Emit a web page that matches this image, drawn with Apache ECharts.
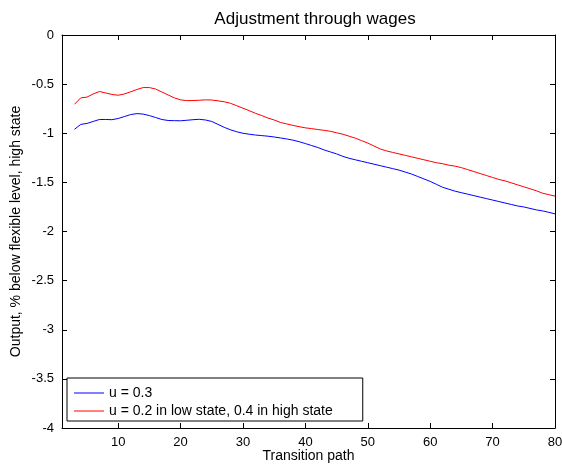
<!DOCTYPE html>
<html>
<head>
  <meta charset="utf-8">
  <title>Adjustment through wages</title>
  <script src="https://cdn.jsdelivr.net/npm/echarts@6/dist/echarts.min.js"></script>
</head>
<body style="margin:0">
  <div id="container" style="height: 465px; width: 562px"></div>
  <script>
    // transition path periods
    var periods = [];
    for (var t = 3; t <= 80; t++) periods.push(t);

    var uFlat = [
      -0.96, -0.91, -0.90, -0.88, -0.86, -0.86, -0.862, -0.85, -0.83, -0.81,
      -0.80, -0.805, -0.82, -0.84, -0.86, -0.87, -0.872, -0.873, -0.868, -0.862,
      -0.858, -0.865, -0.88, -0.91, -0.94, -0.965, -0.985, -1.0, -1.01, -1.018,
      -1.024, -1.03, -1.038, -1.048, -1.058, -1.07, -1.086, -1.105, -1.125, -1.145,
      -1.17, -1.19, -1.21, -1.235, -1.255, -1.27, -1.285, -1.30, -1.315, -1.33,
      -1.345, -1.36, -1.375, -1.395, -1.415, -1.44, -1.465, -1.49, -1.52, -1.55,
      -1.57, -1.59, -1.605, -1.62, -1.635, -1.65, -1.665, -1.68, -1.695, -1.71,
      -1.725, -1.74, -1.75, -1.765, -1.78, -1.79, -1.805, -1.82
    ];

    var uState = [
      -0.705, -0.64, -0.632, -0.60, -0.575, -0.59, -0.605, -0.613, -0.60, -0.578,
      -0.555, -0.535, -0.535, -0.55, -0.58, -0.61, -0.64, -0.66, -0.668, -0.667,
      -0.664, -0.66, -0.662, -0.67, -0.68, -0.695, -0.72, -0.745, -0.77, -0.797,
      -0.82, -0.845, -0.865, -0.89, -0.905, -0.92, -0.933, -0.945, -0.953, -0.962,
      -0.97, -0.98, -0.995, -1.01, -1.03, -1.05, -1.075, -1.10, -1.13, -1.16,
      -1.18, -1.195, -1.21, -1.225, -1.24, -1.255, -1.27, -1.285, -1.30, -1.31,
      -1.325, -1.335, -1.35, -1.37, -1.39, -1.41, -1.43, -1.45, -1.47, -1.485,
      -1.505, -1.525, -1.545, -1.565, -1.585, -1.61, -1.625, -1.64
    ];

    var xTicks = [10, 20, 30, 40, 50, 60, 70, 80];
    var names = ['u = 0.3', 'u = 0.2 in low state, 0.4 in high state'];

    var font = 'Liberation Sans, Arial, sans-serif';
    var lineStyle = { color: '#000', width: 1 };

    function xAxis(pos, labels) {
      return {
        type: 'value', min: 1, max: 80, position: pos,
        axisLine: { show: true, onZero: false, lineStyle: lineStyle },
        axisTick: { show: true, inside: true, length: 5, lineStyle: lineStyle, customValues: xTicks },
        axisLabel: { show: labels, fontFamily: font, fontSize: 13, color: '#000', margin: 8, customValues: xTicks },
        splitLine: { show: false }
      };
    }
    function yAxis(pos, labels) {
      return {
        type: 'value', min: -4, max: 0, interval: 0.5, position: pos,
        axisLine: { show: true, onZero: false, lineStyle: lineStyle },
        axisTick: { show: true, inside: true, length: 5, lineStyle: lineStyle },
        axisLabel: { show: labels, fontFamily: font, fontSize: 13, color: '#000', margin: 8 },
        splitLine: { show: false }
      };
    }

    var bottomX = xAxis('bottom', true);
    bottomX.name = 'Transition path';
    bottomX.nameLocation = 'middle';
    bottomX.nameGap = 21;
    bottomX.nameMoveOverlap = false;
    bottomX.nameTextStyle = { fontFamily: font, fontSize: 14, color: '#000' };

    var leftY = yAxis('left', true);
    leftY.name = 'Output, % below flexible level, high state';
    leftY.nameLocation = 'middle';
    leftY.nameGap = 39;
    leftY.nameRotate = 90;
    leftY.nameMoveOverlap = false;
    leftY.nameTextStyle = { fontFamily: font, fontSize: 14, color: '#000' };

    var myChart = echarts.init(document.getElementById('container'));
    var option = {
      animation: false,
      backgroundColor: '#fff',
      title: {
        text: 'Adjustment through wages',
        left: 310,
        top: 6,
        textAlign: 'center',
        textStyle: { fontFamily: font, fontSize: 17, fontWeight: 'normal', color: '#000' }
      },
      grid: { left: 62, right: 7, top: 35, bottom: 37, containLabel: false, outerBoundsMode: 'none' },
      legend: {
        orient: 'vertical',
        left: 67,
        top: 378,
        padding: [8, 30, 3, 7],
        itemGap: 4,
        itemWidth: 30,
        itemHeight: 1,
        icon: 'rect',
        borderColor: '#000',
        borderWidth: 1,
        borderRadius: 0,
        backgroundColor: '#fff',
        textStyle: { fontFamily: font, fontSize: 14, color: '#000' },
        data: names
      },
      xAxis: [bottomX, xAxis('top', false)],
      yAxis: [leftY, yAxis('right', false)],
      series: [
        {
          name: names[0], type: 'line', symbol: 'none',
          lineStyle: { color: '#0000ff', width: 1 }, itemStyle: { color: '#0000ff' },
          data: periods.map(function (p, i) { return [p, uFlat[i]]; })
        },
        {
          name: names[1], type: 'line', symbol: 'none',
          lineStyle: { color: '#ff0000', width: 1 }, itemStyle: { color: '#ff0000' },
          data: periods.map(function (p, i) { return [p, uState[i]]; })
        }
      ]
    };
    myChart.setOption(option);
    window.addEventListener('resize', myChart.resize);
  </script>
</body>
</html>
